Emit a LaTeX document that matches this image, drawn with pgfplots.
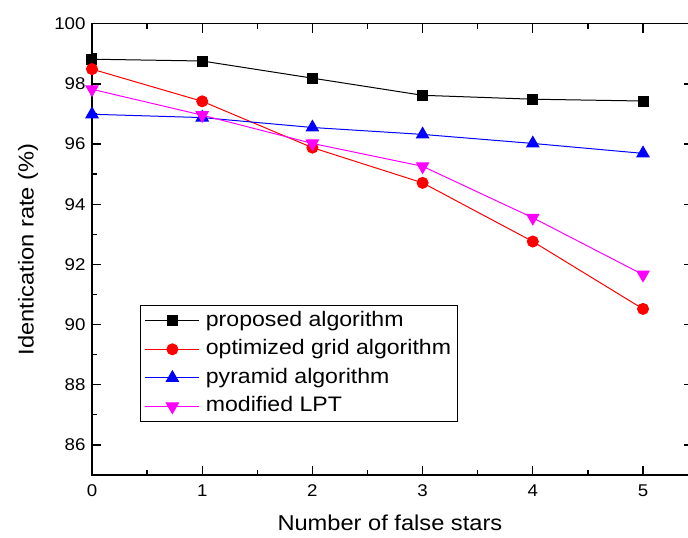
\documentclass[border=0pt]{standalone}
\usepackage{pgfplots}
\pgfplotsset{compat=1.18}
\usepackage{fontspec}
\setmainfont{Liberation Sans}[FakeStretch=1.1]
\definecolor{cblack}{RGB}{0,0,0}
\definecolor{cred}{RGB}{255,0,0}
\definecolor{cblue}{RGB}{0,0,255}
\definecolor{cmag}{RGB}{255,0,255}
\begin{document}
\begin{tikzpicture}
\begin{axis}[
  scale only axis, width=600.6pt, height=451.3pt,
  xmin=0, xmax=5.45, ymin=85, ymax=100,
  xtick={0,1,2,3,4,5}, ytick={86,88,90,92,94,96,98,100},
  minor x tick num=1, minor y tick num=1,
  major tick length=9pt, minor tick length=5pt,
  tick align=inside,
  axis line style={line width=1.3pt},
  every tick/.style={line width=1.3pt, black},
  ticklabel style={font=\fontsize{17}{20}\selectfont},
  /pgf/number format/assume math mode=true,
  xticklabel style={yshift=-6pt},
  yticklabel style={xshift=-3pt},
  xlabel={Number of false stars},
  ylabel={Identication rate (\%)},
  label style={font=\fontsize{21.5}{25}\selectfont},
  xlabel style={at={(axis description cs:0.496,-0.106)}, anchor=center},
  ylabel style={at={(axis description cs:-0.1066,0.5)}, anchor=center},
  legend style={at={(axis description cs:0.0799,0.3767)}, anchor=north west,
    font=\fontsize{21}{24}\selectfont, draw=black, line width=0.8pt,
    inner xsep=4.5pt, inner ysep=1pt, row sep=0pt,
    nodes={inner sep=2pt, text height=17.8pt, text depth=6.8pt},
    /tikz/every odd column/.style={column sep=4pt}},
  legend cell align=left,
  legend image code/.code={\draw[#1, line width=1pt, mark repeat=2, mark phase=2] plot coordinates {(0pt,0pt) (27pt,0pt) (54pt,0pt)};},
]
\addplot[cblack, line width=1pt, mark=square*, mark size=5pt, mark options={solid}]
  coordinates {(0,98.82)(1,98.76)(2,98.19)(3,97.62)(4,97.49)(5,97.43)};
\addlegendentry{proposed algorithm}
\addplot[cred, line width=1pt, mark=*, mark size=5.5pt, mark options={solid}]
  coordinates {(0,98.49)(1,97.42)(2,95.88)(3,94.71)(4,92.76)(5,90.52)};
\addlegendentry{optimized grid algorithm}
\addplot[cblue, line width=1pt, mark=triangle*, mark size=7pt, mark options={solid}]
  coordinates {(0,96.99)(1,96.88)(2,96.55)(3,96.32)(4,96.02)(5,95.69)};
\addlegendentry{pyramid algorithm}
\addplot[cmag, line width=1pt, mark=triangle*, mark size=7pt, mark options={solid, rotate=180}]
  coordinates {(0,97.82)(1,96.96)(2,96.02)(3,95.26)(4,93.55)(5,91.66)};
\addlegendentry{modified LPT}
\end{axis}
\pgfresetboundingbox
\path[use as bounding box] ([shift={(-92pt,-63pt)}]current axis.south west) rectangle ([shift={(596pt,23.7pt)}]current axis.north west);
\end{tikzpicture}
\end{document}
